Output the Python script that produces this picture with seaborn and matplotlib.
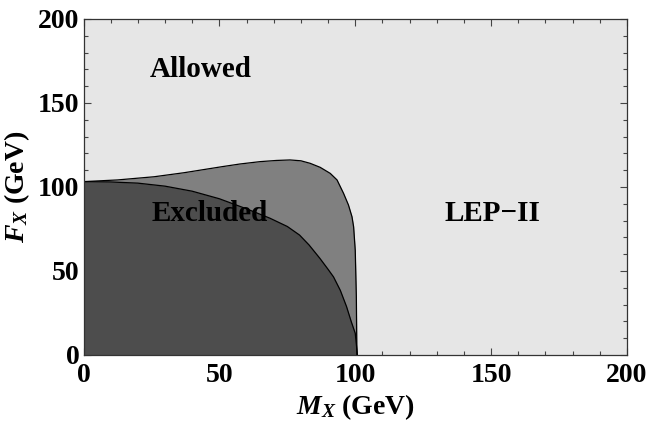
import matplotlib
matplotlib.use("Agg")
import matplotlib.pyplot as plt
import seaborn as sns
import pandas as pd
from matplotlib.ticker import MultipleLocator

# Boundary of the dark excluded region (M_X, F_X in GeV)
lower_m = [0, 10, 20, 30, 40, 50, 60, 68.5, 75, 79.5, 83, 87, 90, 92, 94.5, 96.8, 98.5, 100, 100.8]
lower_f = [103.2, 103.0, 102.3, 100.5, 97.5, 93.0, 87.0, 81.5, 76.5, 71.4, 65.5, 57.5, 51.0, 46.5, 38.5, 28.8, 20.0, 12.9, 0]

# Boundary of the lighter excluded band (LEP-II)
upper_m = [0, 12.5, 26, 37, 51, 57.6, 65, 71, 76, 80, 83.4, 87.1, 90.8, 93.3, 95.7, 97.5, 98.8, 99.4, 100, 100.4, 100.6]
upper_f = [103.2, 104.2, 106.1, 108.5, 112.1, 113.7, 115.1, 115.8, 116.1, 115.6, 114.1, 111.7, 108.1, 104.2, 96.2, 89.3, 82.3, 76.3, 62.3, 35.0, 0]

labels = ["Allowed", "Excluded", "LEP\u2212II"]
label_m = [43, 46.5, 150.6]
label_f = [170, 84.5, 84]

sns.set_theme(style="ticks")
plt.rcParams["font.family"] = ["Liberation Serif", "DejaVu Serif"]
plt.rcParams["font.weight"] = "bold"
plt.rcParams["text.color"] = "black"
plt.rcParams["axes.labelcolor"] = "black"
plt.rcParams["xtick.labelcolor"] = "black"
plt.rcParams["ytick.labelcolor"] = "black"
plt.rcParams["mathtext.fontset"] = "custom"
plt.rcParams["mathtext.it"] = "Liberation Serif:italic:bold"
plt.rcParams["mathtext.rm"] = "Liberation Serif:bold"
plt.rcParams["mathtext.bf"] = "Liberation Serif:bold"

fig = plt.figure(figsize=(6.5, 4.24), dpi=100)
ax = fig.add_axes([83.5 / 650, 1 - 355 / 424, (627 - 83.5) / 650, (355 - 19) / 424])

ax.set_facecolor("#e6e6e6")

upper = pd.DataFrame({"M": upper_m, "F": upper_f})
lower = pd.DataFrame({"M": lower_m, "F": lower_f})

ax.fill_between(upper["M"], 0, upper["F"], color="#808080", linewidth=0, zorder=1)
ax.fill_between(lower["M"], 0, lower["F"], color="#4d4d4d", linewidth=0, zorder=2)

sns.lineplot(data=upper, x="M", y="F", sort=False, estimator=None, color="black",
             linewidth=0.9, ax=ax, zorder=3)
sns.lineplot(data=lower, x="M", y="F", sort=False, estimator=None, color="black",
             linewidth=0.9, ax=ax, zorder=3)

for txt, m, f in zip(labels, label_m, label_f):
    ax.text(m, f, txt, ha="center", va="center", fontsize=21, fontweight="bold",
            color="black", zorder=5)

ax.set_xlim(0, 200)
ax.set_ylim(0, 200)
ax.xaxis.set_major_locator(MultipleLocator(50))
ax.yaxis.set_major_locator(MultipleLocator(50))
ax.xaxis.set_minor_locator(MultipleLocator(10))
ax.yaxis.set_minor_locator(MultipleLocator(10))
ax.tick_params(which="both", direction="in", top=True, right=True, color="#444444",
               width=0.8, labelsize=20, labelcolor="black")
ax.tick_params(axis="x", which="both", pad=6)
ax.tick_params(axis="y", which="both", pad=3)
ax.tick_params(which="major", length=5)
ax.tick_params(which="minor", length=3)
for lab in ax.get_xticklabels() + ax.get_yticklabels():
    lab.set_fontweight("bold")
for s in ax.spines.values():
    s.set_color("#333333")
    s.set_linewidth(0.9)
    s.set_zorder(6)

ax.set_xlabel(r"$M_X$ (GeV)", fontsize=20, fontweight="bold", labelpad=3, color="black")
ax.set_ylabel(r"$F_X$ (GeV)", fontsize=20, fontweight="bold", labelpad=4, color="black")

fig.savefig("out.png", dpi=100)
